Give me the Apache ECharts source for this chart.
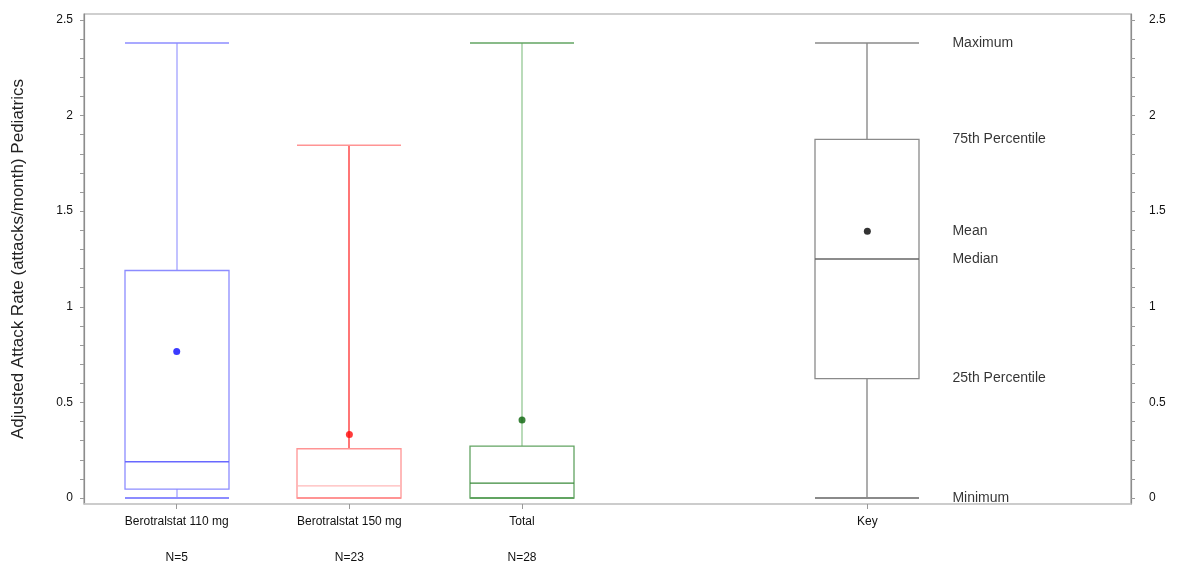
<!DOCTYPE html>
<html>
<head>
<meta charset="utf-8">
<script src="https://cdn.jsdelivr.net/npm/echarts@6/dist/echarts.min.js"></script>
<style>
  html, body { margin: 0; padding: 0; background: #fff; }
  #chart { width: 1177px; height: 564px; }
</style>
</head>
<body>
<div id="chart"></div>
<script>
// box plot groups (Key is the explanatory box on the right)
const categories = ["Berotralstat 110 mg", "Berotralstat 150 mg", "Total", "Key"];
const positions = [1, 2, 3, 5];
const nLabels = ["N=5", "N=23", "N=28", ""];
const minValues = [0, 0, 0, 0];
const q1Values = [0.047, 0, 0, 0.625];
const medianValues = [0.19, 0.064, 0.078, 1.25];
const q3Values = [1.19, 0.258, 0.272, 1.875];
const maxValues = [2.38, 1.845, 2.38, 2.38];
const meanValues = [0.766, 0.333, 0.408, 1.395];
const keyLabels = ["Maximum", "75th Percentile", "Mean", "Median", "25th Percentile", "Minimum"];
const yLabels = [0, 0.5, 1, 1.5, 2, 2.5];
const yTicks = [0, 0.1, 0.2, 0.3, 0.4, 0.5, 0.6, 0.7, 0.8, 0.9, 1, 1.1, 1.2, 1.3, 1.4, 1.5,
  1.6, 1.7, 1.8, 1.9, 2, 2.1, 2.2, 2.3, 2.4, 2.5];

// styles
const boxColors = ["#8c8cff", "#ff9494", "#62a462", "#8a8a8a"];
const whiskerColors = ["#a8a8ff", "#ff3c3c", "#9ccc9c", "#8a8a8a"];
const medianColors = ["#6868ff", "#ffb8b8", "#3a8a3a", "#666666"];
const meanColors = ["#0a0aff", "#ff0a0a", "#0a640a", "#000000"];
const FONT = '"Liberation Sans", Arial, sans-serif';

const keyValues = [maxValues[3], q3Values[3], meanValues[3], medianValues[3], q1Values[3], minValues[3]];
const keyLabelX = 5.49;

const chart = echarts.init(document.getElementById("chart"));

const boxData = positions.map((p, i) => [p, minValues[i], q1Values[i], medianValues[i], q3Values[i], maxValues[i], i]);

function renderBox(params, api) {
  const x = api.value(0);
  const idx = api.value(6);
  const half = Math.round(api.size([0.6, 0])[0] / 2);
  const pMin = api.coord([x, api.value(1)]);
  const pQ1 = api.coord([x, api.value(2)]);
  const pMed = api.coord([x, api.value(3)]);
  const pQ3 = api.coord([x, api.value(4)]);
  const pMax = api.coord([x, api.value(5)]);
  const cx = Math.round(pMin[0]);
  const hline = (y, color, w) => ({
    type: "line",
    shape: { x1: cx - half, y1: y, x2: cx + half, y2: y },
    style: { stroke: color, lineWidth: w || 1 }
  });
  const vline = (y1, y2, color) => ({
    type: "line",
    shape: { x1: cx, y1: y1, x2: cx, y2: y2 },
    style: { stroke: color, lineWidth: 1.4 }
  });
  return {
    type: "group",
    children: [
      vline(pQ3[1], pMax[1], whiskerColors[idx]),
      vline(pQ1[1], pMin[1], whiskerColors[idx]),
      hline(pMax[1], boxColors[idx], 1.5),
      hline(pMin[1], boxColors[idx], 2),
      {
        type: "rect",
        shape: { x: cx - half, y: pQ3[1], width: half * 2, height: pQ1[1] - pQ3[1] },
        style: { fill: "none", stroke: boxColors[idx], lineWidth: 1.3 }
      },
      hline(pMed[1], medianColors[idx], 1.3)
    ]
  };
}

const yMin = -0.031;
const yMax = 2.531;

function yAxisCfg(pos) {
  return {
    type: "value",
    position: pos,
    min: yMin,
    max: yMax,
    splitLine: { show: false },
    axisLine: { show: true, onZero: false, lineStyle: { color: "#8c8c8c", width: 1.2 } },
    axisTick: { show: true, customValues: yTicks, length: 4, lineStyle: { color: "#9a9a9a" } },
    axisLabel: {
      show: true,
      customValues: yLabels,
      formatter: v => String(v),
      color: "#111",
      fontSize: 12,
      fontFamily: FONT,
      margin: pos === "left" ? 11 : 18
    }
  };
}

chart.setOption({
  animation: false,
  textStyle: { fontFamily: FONT },
  grid: {
    left: 84, right: 46, top: 14, bottom: 58,
    show: true, borderColor: "#a0a0a0", borderWidth: 1.2
  },
  xAxis: [
    {
      type: "value",
      min: 0.463,
      max: 6.527,
      splitLine: { show: false },
      axisLine: { show: true, onZero: false, lineStyle: { color: "#cccccc", width: 1.5 } },
      axisTick: { show: true, customValues: positions, length: 5, lineStyle: { color: "#999" } },
      axisLabel: {
        show: true,
        customValues: positions,
        formatter: v => categories[positions.indexOf(v)] || "",
        color: "#111",
        fontSize: 12,
        fontFamily: FONT,
        margin: 12
      }
    },
    {
      type: "value",
      position: "bottom",
      offset: 37,
      min: 0.463,
      max: 6.527,
      splitLine: { show: false },
      axisLine: { show: false, onZero: false },
      axisTick: { show: false },
      axisLabel: {
        show: true,
        customValues: positions,
        formatter: v => nLabels[positions.indexOf(v)] || "",
        color: "#111",
        fontSize: 12,
        fontFamily: FONT,
        margin: 11
      }
    }
  ],
  yAxis: [
    Object.assign(yAxisCfg("left"), {
      name: "Adjusted Attack Rate (attacks/month) Pediatrics",
      nameLocation: "middle",
      nameGap: 57,
      nameTextStyle: { fontSize: 17, color: "#222", fontFamily: FONT }
    }),
    yAxisCfg("right")
  ],
  series: [
    {
      type: "custom",
      renderItem: renderBox,
      xAxisIndex: 0,
      yAxisIndex: 0,
      encode: { x: 0, y: [1, 2, 3, 4, 5] },
      data: boxData,
      silent: true,
      clip: false,
      z: 2
    },
    {
      type: "scatter",
      xAxisIndex: 0,
      yAxisIndex: 0,
      symbol: "circle",
      symbolSize: 7,
      data: positions.map((p, i) => [p, meanValues[i]]),
      itemStyle: { color: params => meanColors[params.dataIndex] },
      silent: true,
      z: 3
    },
    {
      type: "scatter",
      xAxisIndex: 0,
      yAxisIndex: 0,
      symbolSize: 1,
      itemStyle: { color: "rgba(0,0,0,0)" },
      data: keyLabels.map((name, i) => ({ name: name, value: [keyLabelX, keyValues[i]] })),
      label: {
        show: true,
        position: "right",
        distance: 0,
        formatter: p => p.name,
        color: "#000",
        fontSize: 14,
        fontFamily: FONT
      },
      silent: true,
      z: 3
    }
  ]
});
</script>
</body>
</html>
